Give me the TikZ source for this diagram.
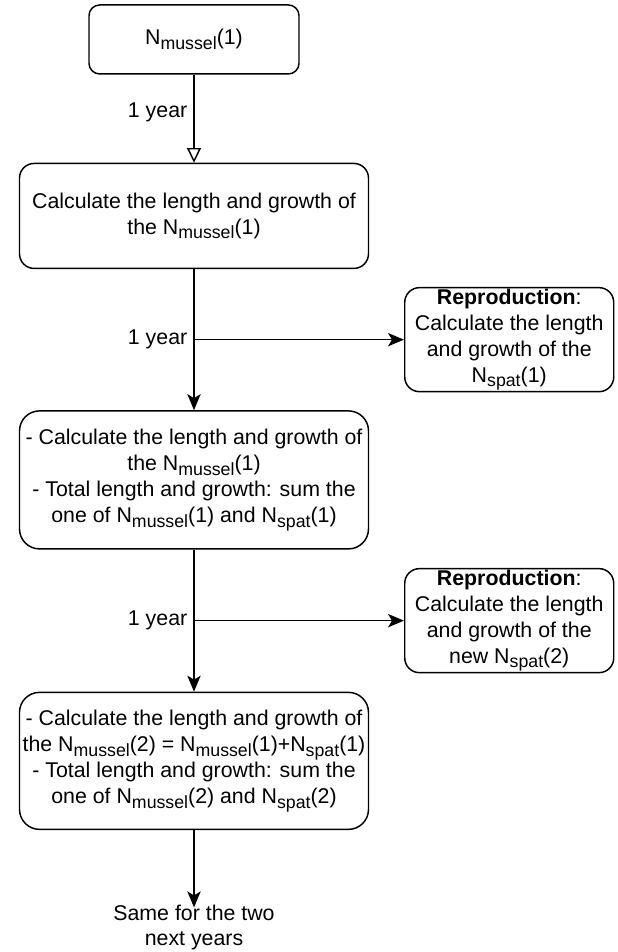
\documentclass[tikz,border=0pt]{standalone}
\usepackage{fontspec}
\setmainfont{Liberation Sans}
\usetikzlibrary{arrows.meta,positioning}

\newcommand{\lowtext}[1]{\raisebox{-3.5pt}{\fontsize{13.3pt}{14pt}\selectfont #1}}
\newcommand{\Nmussel}{N\lowtext{mussel}}
\newcommand{\Nspat}{N\lowtext{spat}}

\begin{document}
\begin{tikzpicture}[
    block/.style={rectangle, draw, line width=1.1pt, rounded corners=11pt, align=center, inner sep=0pt, font=\fontsize{16pt}{19.5pt}\selectfont, minimum width=261.75pt},
    repro/.style={block, minimum width=156.75pt, minimum height=78pt},
    lbl/.style={font=\fontsize{16pt}{19.5pt}\selectfont, inner sep=4.5pt},
    arrow/.style={-{Stealth[length=12pt, width=10pt, inset=3pt]}, line width=1.1pt},
    openarrow/.style={-{Triangle[open, length=11pt, width=10.5pt]}, line width=1.1pt}
]

\useasboundingbox (0,0) rectangle (462.75pt,-714pt);

% Main column
\node[block, minimum width=157.5pt, minimum height=51.75pt, rounded corners=8pt] (start) at (145.5pt,-29.6pt) {\Nmussel(1)};
\node[block, below=66pt of start, minimum height=78.75pt] (calc) {Calculate the length and growth of\\the \Nmussel(1)};
\node[block, below=105.75pt of calc, minimum height=103.5pt, rounded corners=15pt] (sum1) {- Calculate the length and growth of\\the \Nmussel(1)\\- Total length and growth: sum the\\one of \Nmussel(1) and \Nspat(1)};
\node[block, below=106.5pt of sum1, minimum height=102.75pt, rounded corners=15pt] (sum2) {- Calculate the length and growth of\\the \Nmussel(2) = \Nmussel(1)+\Nspat(1)\\- Total length and growth: sum the\\one of \Nmussel(2) and \Nspat(2)};
\node[lbl, align=center, inner sep=0pt, below=56pt of sum2, font=\fontsize{16pt}{18.5pt}\selectfont] (next) {Same for the two\\next years};

% Reproduction side
\path (calc.south) -- (sum1.north) coordinate[midway] (j1);
\path (sum1.south) -- (sum2.north) coordinate[midway] (j2);
\node[repro, right=157.5pt of j1] (rep1) {\textbf{Reproduction}:\\Calculate the length\\and growth of the\\\Nspat(1)};
\node[repro, right=157.5pt of j2] (rep2) {\textbf{Reproduction}:\\Calculate the length\\and growth of the\\new \Nspat(2)};

\draw[openarrow] (start) -- (calc) node[lbl, pos=0.43, left] (yr1) {1 year};
\draw[arrow] (calc) -- (sum1) node[lbl, midway, left] (yr2) {1 year};
\draw[arrow] (j1) -- (rep1);
\draw[arrow] (sum1) -- (sum2) node[lbl, midway, left] (yr3) {1 year};
\draw[arrow] (j2) -- (rep2);
\draw[arrow] (sum2) -- ([yshift=-2pt]next.north);

\end{tikzpicture}
\end{document}
